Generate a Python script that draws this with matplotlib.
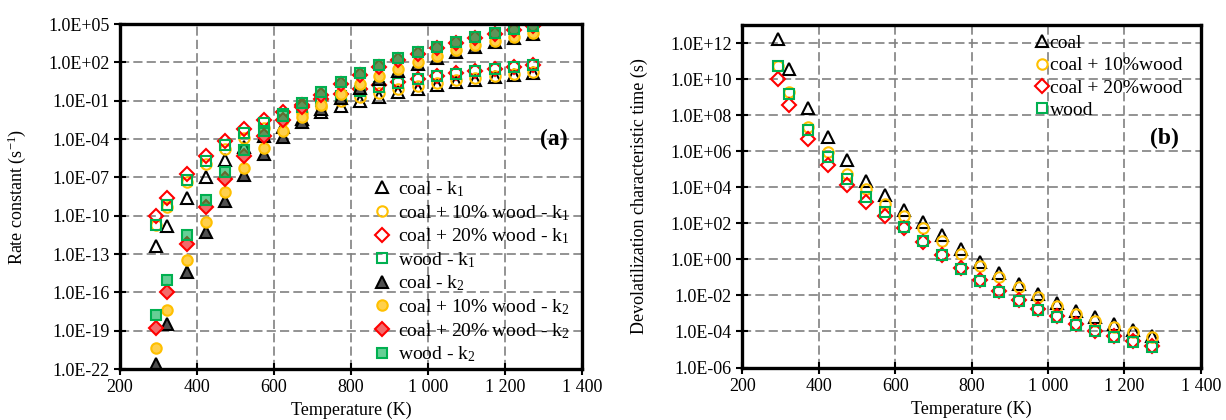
import numpy as np
import matplotlib.pyplot as plt
from matplotlib.ticker import FixedLocator, FuncFormatter, NullLocator

plt.rcParams['font.family'] = ['Liberation Serif', 'DejaVu Serif']
plt.rcParams['mathtext.fontset'] = 'custom'
plt.rcParams['mathtext.rm'] = 'Liberation Serif'
plt.rcParams['mathtext.it'] = 'Liberation Serif:italic'
plt.rcParams['mathtext.default'] = 'rm'

# ------------------ data ------------------
temperature = [293, 323, 373, 423, 473, 523, 573, 623, 673, 723, 773,
               823, 873, 923, 973, 1023, 1073, 1123, 1173, 1223, 1273]

# (a) rate constants k1 / k2 (s^-1)
coal_k1 = [4.0e-13, 1.7e-11, 2.5e-9, 1.1e-7, 2.1e-6, 2.3e-5, 1.7e-4, 8.9e-4,
           3.7e-3, 1.3e-2, 3.6e-2, 9.3e-2, 0.21, 0.45, 0.87, 1.6, 2.7, 4.5,
           6.9, 10.5, 15.5]
coal10_k1 = [1.8e-11, 5.0e-10, 4.0e-8, 1.1e-6, 1.55e-5, 1.3e-4, 7.4e-4, 3.2e-3,
             1.15e-2, 3.4e-2, 8.7e-2, 0.20, 0.41, 0.79, 1.4, 2.4, 3.9, 6.0,
             8.9, 12.9, 18.0]
coal20_k1 = [1.0e-10, 2.6e-9, 1.95e-7, 5.1e-6, 6.9e-5, 5.6e-4, 3.2e-3, 1.35e-2,
             4.6e-2, 0.135, 0.34, 0.76, 1.57, 3.0, 5.3, 8.9, 14.3, 22.0,
             32.0, 47.0, 65.0]
wood_k1 = [2.0e-11, 6.6e-10, 6.3e-8, 2.0e-6, 3.2e-5, 2.9e-4, 1.8e-3, 8.3e-3,
           3.1e-2, 9.5e-2, 0.25, 0.60, 1.28, 2.5, 4.7, 8.1, 13.3, 21.0,
           32.0, 47.0, 66.0]
coal_k2 = [2.5e-22, 3.3e-19, 3.9e-15, 5.1e-12, 1.45e-9, 1.4e-7, 6.2e-6, 1.5e-4,
           2.2e-3, 2.2e-2, 0.17, 1.0, 4.8, 19.6, 69.0, 215.0, 600.0, 1550.0,
           3650.0, 8000.0, 16600.0]
coal10_k2 = [4.5e-21, 4.2e-18, 3.3e-14, 3.1e-11, 6.9e-9, 5.5e-7, 2.0e-5, 4.2e-4,
             5.4e-3, 5.0e-2, 0.35, 1.9, 8.5, 32.0, 108.0, 320.0, 850.0, 2100.0,
             4800.0, 10200.0, 20400.0]
coal20_k2 = [1.6e-19, 1.1e-16, 6.2e-13, 4.4e-10, 7.8e-8, 5.1e-6, 1.6e-4, 3.0e-3,
             3.5e-2, 0.30, 1.9, 9.8, 41.0, 149.0, 470.0, 1340.0, 3450.0, 8100.0,
             17900.0, 37000.0, 72000.0]
wood_k2 = [1.6e-18, 8.5e-16, 3.3e-12, 1.8e-9, 2.6e-7, 1.45e-5, 3.9e-4, 6.4e-3,
           6.8e-2, 0.52, 3.1, 14.8, 59.0, 204.0, 620.0, 1660.0, 4100.0, 9300.0,
           20000.0, 40000.0, 76000.0]

# (b) devolatilization characteristic time (s)
tau_coal = [1.74e12, 3.7e10, 2.6e8, 6.0e6, 3.3e5, 2.3e4, 3.6e3, 550.0, 115.0,
            22.0, 3.7, 0.68, 0.166, 0.043, 1.17e-2, 3.6e-3, 1.3e-3, 6.0e-4,
            2.6e-4, 1.2e-4, 5.9e-5]
tau_coal10 = [5.6e10, 1.9e9, 2.3e7, 8.7e5, 5.5e4, 8.1e3, 1.2e3, 270.0, 52.0,
              11.0, 2.0, 0.45, 0.10, 0.028, 7.8e-3, 2.7e-3, 9.1e-4, 3.9e-4,
              1.7e-4, 8.9e-5, 4.7e-5]
tau_coal20 = [1.05e10, 3.7e8, 4.9e6, 1.8e5, 1.4e4, 1.5e3, 270.0, 56.0, 9.5,
              1.7, 0.32, 0.072, 0.018, 5.6e-3, 1.7e-3, 6.8e-4, 2.6e-4, 1.1e-4,
              5.6e-5, 2.8e-5, 1.5e-5]
tau_wood = [5.0e10, 1.55e9, 1.55e7, 4.7e5, 2.9e4, 2.75e3, 410.0, 60.0, 10.0,
            1.8, 0.29, 0.065, 0.016, 5.0e-3, 1.55e-3, 6.0e-4, 2.3e-4, 1.0e-4,
            5.0e-5, 2.5e-5, 1.3e-5]

BLACK = '#000000'
ORANGE = '#FFC000'
RED = '#FF0000'
GREEN = '#00B050'


def sci_label(v, pos):
    exp = int(round(np.log10(v)))
    return f"1.0E{exp:+03d}"


def temp_label(v, pos):
    return f"{int(v):,}".replace(",", " ")


def style_axes(ax, yticks):
    ax.set_yscale('log')
    ax.set_xlim(200, 1400)
    ax.xaxis.set_major_locator(FixedLocator(range(200, 1401, 200)))
    ax.xaxis.set_major_formatter(FuncFormatter(temp_label))
    ax.yaxis.set_major_locator(FixedLocator(yticks))
    ax.yaxis.set_major_formatter(FuncFormatter(sci_label))
    ax.yaxis.set_minor_locator(NullLocator())
    ax.set_axisbelow(True)
    ax.grid(True, color='#808080', linestyle=(0, (5.5, 2.5)), linewidth=1.2)
    for sp in ax.spines.values():
        sp.set_linewidth(2.4)
    ax.tick_params(direction='inout', length=8, width=1.5, labelsize=13)
    ax.set_xlabel("Temperature (K)", fontsize=13, labelpad=4)


fig = plt.figure(figsize=(12.26, 4.2), dpi=100)

# ==================== (a) rate constants ====================
ax1 = fig.add_axes([0.0979, 0.1214, 0.3768, 0.8214])
style_axes(ax1, [10.0 ** e for e in range(-22, 6, 3)])
ax1.set_ylim(1e-22, 1e5)

mk = dict(linestyle='none', markeredgewidth=1.5)
ax1.plot(temperature, coal_k1, '^', ms=8.5, mec=BLACK, mfc='none',
         label='coal - k$_1$', **mk)
ax1.plot(temperature, coal10_k1, 'o', ms=7.5, mec=ORANGE, mfc='none',
         label='coal + 10% wood - k$_1$', **mk)
ax1.plot(temperature, coal20_k1, 'D', ms=7, mec=RED, mfc='none',
         label='coal + 20% wood - k$_1$', **mk)
ax1.plot(temperature, wood_k1, 's', ms=7, mec=GREEN, mfc='none',
         label='wood - k$_1$', **mk)
ax1.plot(temperature, coal_k2, '^', ms=8.5, mec=BLACK, mfc='#505050',
         label='coal - k$_2$', **mk)
ax1.plot(temperature, coal10_k2, 'o', ms=7.5, mec=ORANGE, mfc='#FFD04D',
         label='coal + 10% wood - k$_2$', **mk)
ax1.plot(temperature, coal20_k2, 'D', ms=7, mec=RED, mfc='#F26A6A',
         label='coal + 20% wood - k$_2$', **mk)
ax1.plot(temperature, wood_k2, 's', ms=7, mec=GREEN, mfc=(0.0, 0.69, 0.31, 0.6),
         label='wood - k$_2$', **mk)

ax1.set_ylabel("Rate constant (s$^{-1}$)", fontsize=13)
ax1.yaxis.set_label_coords(-0.199, 0.5)
ax1.text(0.94, 0.665, "(a)", transform=ax1.transAxes, fontsize=17,
         fontweight='bold', ha='center', va='center')
ax1.legend(loc='upper left', bbox_to_anchor=(0.547, 0.55), frameon=False,
           fontsize=14, handlelength=1.0, handletextpad=0.3,
           labelspacing=0.2, borderpad=0, borderaxespad=0)

# ==================== (b) characteristic time ====================
ax2 = fig.add_axes([0.6055, 0.125, 0.3739, 0.8155])
style_axes(ax2, [10.0 ** e for e in range(-6, 13, 2)])
ax2.set_ylim(1e-6, 1e13)

ax2.plot(temperature, tau_coal, '^', ms=8.5, mec=BLACK, mfc='none',
         label='coal', **mk)
ax2.plot(temperature, tau_coal10, 'o', ms=7.5, mec=ORANGE, mfc='none',
         label='coal + 10%wood', **mk)
ax2.plot(temperature, tau_coal20, 'D', ms=7, mec=RED, mfc='none',
         label='coal + 20%wood', **mk)
ax2.plot(temperature, tau_wood, 's', ms=7, mec=GREEN, mfc='none',
         label='wood', **mk)

ax2.set_ylabel("Devolatilization characteristic time (s)", fontsize=13)
ax2.yaxis.set_label_coords(-0.206, 0.5)
ax2.text(0.92, 0.668, "(b)", transform=ax2.transAxes, fontsize=17,
         fontweight='bold', ha='center', va='center')
ax2.legend(loc='upper left', bbox_to_anchor=(0.6363, 0.973), frameon=False,
           fontsize=14, handlelength=0.8, handletextpad=0.0,
           labelspacing=0.25, borderpad=0, borderaxespad=0)

fig.savefig("out.png", dpi=100)
